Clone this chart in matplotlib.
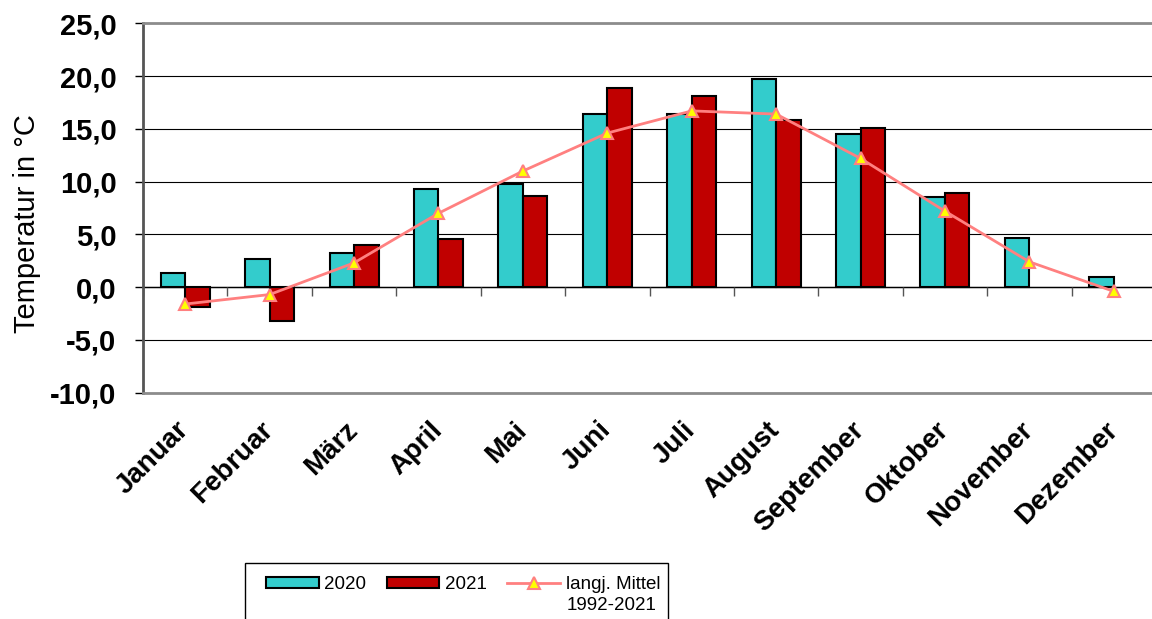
import numpy as np
import matplotlib
matplotlib.use("Agg")
import matplotlib.pyplot as plt
from matplotlib.patches import Rectangle, Patch
from matplotlib.lines import Line2D

plt.rcParams['font.family'] = ['Liberation Sans', 'DejaVu Sans']

months = ["Januar", "Februar", "März", "April", "Mai", "Juni", "Juli",
          "August", "September", "Oktober", "November", "Dezember"]
t2020 = [1.3, 2.7, 3.2, 9.3, 9.8, 16.4, 16.4, 19.7, 14.5, 8.5, 4.7, 1.0]
t2021 = [-1.9, -3.2, 4.0, 4.6, 8.6, 18.9, 18.1, 15.8, 15.1, 8.9, np.nan, np.nan]
mittel = [-1.6, -0.7, 2.3, 7.0, 11.0, 14.6, 16.7, 16.4, 12.2, 7.2, 2.4, -0.4]
y_ticks = [-10, -5, 0, 5, 10, 15, 20, 25]
y_ticklabels = [f"{v:.1f}".replace(".", ",") for v in y_ticks]
legend_labels = ["2020", "2021", "langj. Mittel", "1992-2021"]

W, H = 1152, 619
fig = plt.figure(figsize=(W / 100, H / 100), dpi=100)
ax = fig.add_axes([143 / W, 1 - 392.7 / H, 1013 / W, 369.4 / H])

x = np.arange(len(months))
bw = 0.29
c2020 = "#33CCCC"
c2021 = "#C00000"
cline = "#FF8080"

ax.bar(x - bw / 2, t2020, width=bw, color=c2020, edgecolor="black", linewidth=1.5, zorder=3)
ax.bar(x + bw / 2, t2021, width=bw, color=c2021, edgecolor="black", linewidth=1.5, zorder=3)
ax.plot(x, mittel, color=cline, linewidth=2, marker="^", markersize=9,
        markerfacecolor="#FFFF00", markeredgecolor=cline, markeredgewidth=1.5, zorder=4)

ax.set_xlim(-0.5, len(months) - 0.5)
ax.set_ylim(y_ticks[0], y_ticks[-1])
ax.set_yticks(y_ticks)
ax.set_yticklabels(y_ticklabels, fontsize=21, fontweight="bold")
ax.tick_params(axis="y", direction="out", length=6, width=1, pad=13, color="black")

ax.set_xticks(x)
ax.set_xticklabels(months, fontsize=20, fontweight="bold", rotation=45,
                   ha="right", va="center", rotation_mode="anchor")
ax.tick_params(axis="x", length=0, pad=24)

ax.yaxis.grid(True, color="black", linewidth=0.8)
ax.set_axisbelow(True)
ax.axhline(0, color="black", linewidth=1, zorder=2)
# category boundary ticks on the zero line
ax.vlines(np.arange(len(months) + 1) - 0.5, -0.8, 0, color="#555555", linewidth=1, zorder=2)

for s in ["top", "bottom"]:
    ax.spines[s].set_color("#8c8c8c")
    ax.spines[s].set_linewidth(2)
ax.spines["left"].set_color("#555555")
ax.spines["left"].set_linewidth(2)
ax.spines["right"].set_visible(False)

ax.set_ylabel("Temperatur in °C", fontsize=21)
ax.yaxis.set_label_coords(-0.1006, 0.4567)

handles = [
    Patch(facecolor=c2020, edgecolor="black", linewidth=1.5),
    Patch(facecolor=c2021, edgecolor="black", linewidth=1.5),
    Line2D([], [], color=cline, linewidth=2, marker="^", markersize=9,
           markerfacecolor="#FFFF00", markeredgecolor=cline, markeredgewidth=1.5),
]
leg = fig.legend(handles, legend_labels[:3], loc="upper left",
                 bbox_to_anchor=(266 / W, 1 - 576 / H), ncol=3, frameon=False,
                 fontsize=13.5, handlelength=2.8, handleheight=0.55,
                 handletextpad=0.3, columnspacing=1.1, borderpad=0, borderaxespad=0)
fig.patches.append(Rectangle((245 / W, -0.05), (668 - 245) / W, 0.05 + 1 - 563 / H,
                             transform=fig.transFigure, fill=False,
                             edgecolor="black", linewidth=1))
fig.canvas.draw()
ax.annotate(legend_labels[3], xy=(0, 0), xycoords=leg.get_texts()[2],
            xytext=(1, -3), textcoords="offset points", ha="left", va="top",
            fontsize=13.5, annotation_clip=False)

fig.savefig("out.png", dpi=100)
